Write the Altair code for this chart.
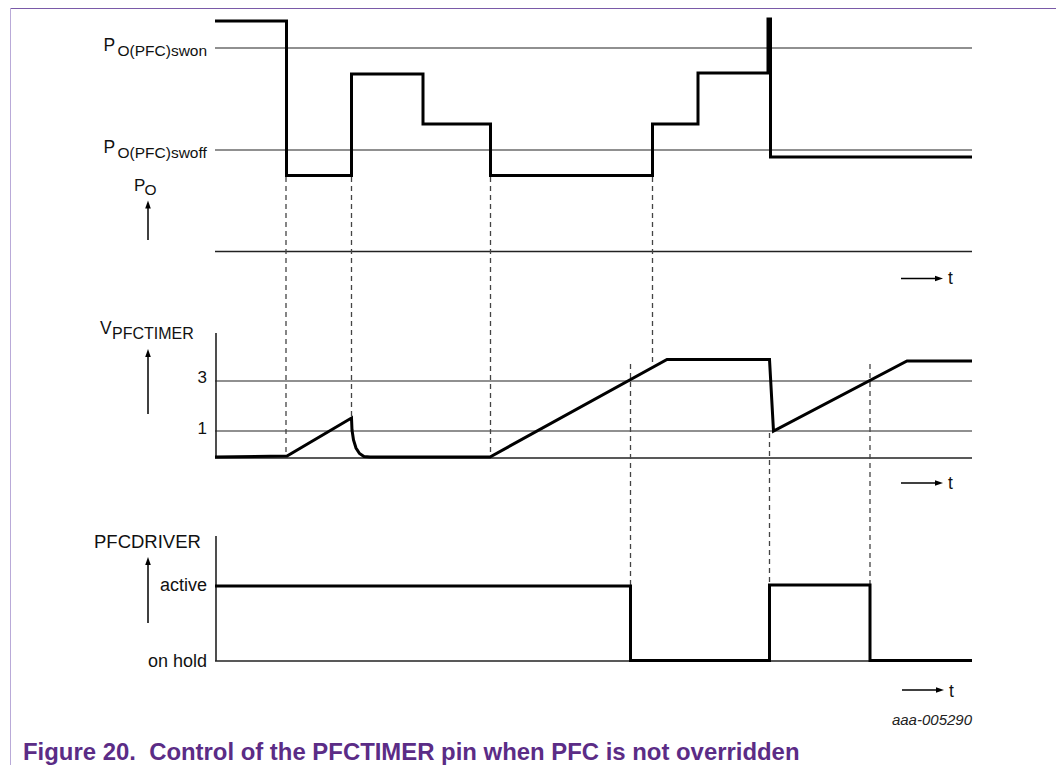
import altair as alt
import pandas as pd

# ---------------- values ----------------
# horizontal: time position, vertical: level position (figure units, downwards)
po_t = [215, 286.5, 286.5, 351.5, 351.5, 423, 423, 490.5, 490.5, 652.5, 652.5,
        698, 698, 768, 768, 770.5, 770.5, 972]
po_y = [21, 21, 175.5, 175.5, 74, 74, 124, 124, 175.5, 175.5, 124, 124,
        73, 73, 19, 19, 157, 157]

vt_t = [215, 287, 351.5, 352, 353.5, 356, 359.5, 364, 370, 490, 667, 769.5,
        773.5, 907, 972]
vt_y = [457, 456, 418, 430, 440, 448, 453.5, 456.5, 457, 457, 359.5, 359.5,
        431, 361, 361]

dr_t = [215, 630.5, 630.5, 769.5, 769.5, 870, 870, 972]
dr_y = [586, 586, 660.5, 660.5, 585, 585, 660.5, 660.5]

# thin reference / axis lines
ref_x = [215, 215, 215, 215, 215, 215, 216, 215, 216]
ref_x2 = [972, 972, 972, 972, 972, 972, 216, 972, 216]
ref_y = [48, 150, 251.5, 381, 431, 458, 333, 661, 536]
ref_y2 = [48, 150, 251.5, 381, 431, 458, 458, 661, 661]
ref_w = [1.2, 1.2, 1.6, 1.2, 1.2, 1.6, 1.6, 1.6, 1.6]

# dashed event markers
dash_x = [286, 351.5, 490.5, 652.5, 630.5, 769.5, 870]
dash_y = [177, 177, 177, 177, 364, 433, 364]
dash_y2 = [456, 418, 457, 364, 586, 585, 585]

# arrows: up arrows (x, tip, bottom) and right arrows (y, start, tip)
up_x = [148, 148, 148]
up_tip = [200.5, 349, 557]
up_bot = [240, 414, 623]
rt_y = [278.5, 483, 690]
rt_start = [901, 901, 902]
rt_tip = [943, 943, 944]

# texts
lbl_left = [
    ("P", 103.5, 51, 17.5), ("O(PFC)swon", 117.5, 56, 15.5),
    ("P", 103.5, 153, 17.5), ("O(PFC)swoff", 117.5, 158, 15.5),
    ("P", 134, 191, 17), ("O", 144.5, 195, 15.5),
    ("V", 100, 334, 17.5), ("PFCTIMER", 112, 338.5, 16),
    ("PFCDRIVER", 94, 548, 18.5),
    ("t", 948, 284, 17.5), ("t", 948, 489, 17.5), ("t", 949, 697, 17.5),
]
lbl_right = [
    ("3", 207, 383, 17), ("1", 207, 434, 17),
    ("active", 207, 591, 18), ("on hold", 207, 667, 18),
]
code_label = [("aaa-005290", 972, 725, 15)]
title_label = [("Figure 20.\u00a0 Control of the PFCTIMER pin when PFC is not overridden", 23, 760, 23.9)]

# frame
frame_x = [10, 10.5]
frame_x2 = [1056, 10.5]
frame_y = [8.5, 8]
frame_y2 = [8.5, 765]
frame_c = ["#7a5aa8", "#b9aad8"]

# ---------------- chart ----------------
xs = alt.Scale(domain=[8, 1056])
ys = alt.Scale(domain=[8, 765], reverse=True)
FONT = "Liberation Sans"


def X(f="x"):
    return alt.X(f"{f}:Q", scale=xs, axis=None)


def Y(f="y"):
    return alt.Y(f"{f}:Q", scale=ys, axis=None)


rows = []
for name, tt, yy in [("po", po_t, po_y), ("vt", vt_t, vt_y), ("dr", dr_t, dr_y)]:
    for i, (a, b) in enumerate(zip(tt, yy)):
        rows.append({"series": name, "i": i, "x": a, "y": b})
traces = alt.Chart(pd.DataFrame(rows)).mark_line(
    color="black", strokeWidth=3, strokeJoin="miter", strokeCap="butt"
).encode(x=X(), y=Y(), detail="series:N", order="i:Q")

refs = alt.Chart(pd.DataFrame({"x": ref_x, "x2": ref_x2, "y": ref_y, "y2": ref_y2, "w": ref_w})).mark_rule(
    color="#222222"
).encode(x=X(), x2="x2:Q", y=Y(), y2="y2:Q", strokeWidth=alt.StrokeWidth("w:Q", scale=None))

dashes = alt.Chart(pd.DataFrame({"x": dash_x, "y": dash_y, "y2": dash_y2})).mark_rule(
    color="#444444", strokeWidth=1.3, strokeDash=[5, 4]
).encode(x=X(), y=Y(), y2="y2:Q")

frame = alt.Chart(pd.DataFrame({"x": frame_x, "x2": frame_x2, "y": frame_y, "y2": frame_y2, "c": frame_c})).mark_rule(
    strokeWidth=1
).encode(x=X(), x2="x2:Q", y=Y(), y2="y2:Q", color=alt.Color("c:N", scale=None))

up_df = pd.DataFrame({"x": up_x, "tip": up_tip, "bot": up_bot})
up_df["shaft"] = up_df["tip"] + 4
up_df["head"] = up_df["tip"] + 4
up_shaft = alt.Chart(up_df).mark_rule(color="black", strokeWidth=1.5).encode(
    x=X(), y=Y("shaft"), y2="bot:Q")
up_head = alt.Chart(up_df).mark_point(
    shape="M-0.7,1L0,-1L0.7,1Z", filled=True, color="black", opacity=1, size=64, strokeWidth=0
).encode(x=X(), y=Y("head"))

rt_df = pd.DataFrame({"y": rt_y, "start": rt_start, "tip": rt_tip})
rt_df["end"] = rt_df["tip"] - 4
rt_shaft = alt.Chart(rt_df).mark_rule(color="black", strokeWidth=1.5).encode(
    x=X("start"), x2="end:Q", y=Y())
rt_head = alt.Chart(rt_df).mark_point(
    shape="M-1,-0.7L1,0L-1,0.7Z", filled=True, color="black", opacity=1, size=64, strokeWidth=0
).encode(x=X("end"), y=Y())


def text_layer(items, align, color="black", weight="normal", style="normal"):
    df = pd.DataFrame(items, columns=["label", "x", "y", "s"])
    return alt.Chart(df).mark_text(
        align=align, baseline="alphabetic", font=FONT, color=color,
        fontWeight=weight, fontStyle=style
    ).encode(x=X(), y=Y(), text="label:N", size=alt.Size("s:Q", scale=None))


texts = [
    text_layer(lbl_left, "left", color="#111111"),
    text_layer(lbl_right, "right", color="#111111"),
    text_layer(code_label, "right", color="#222222", style="italic"),
    text_layer(title_label, "left", color="#5b2c86", weight="bold"),
]

chart = alt.layer(
    frame, refs, dashes, traces, up_shaft, up_head, rt_shaft, rt_head, *texts
).properties(
    width=1048, height=757, padding=0,
    autosize=alt.AutoSizeParams(type="none"),
).configure_view(strokeWidth=0)

chart.save("out.html", embed_options={"renderer": "svg", "actions": False})
